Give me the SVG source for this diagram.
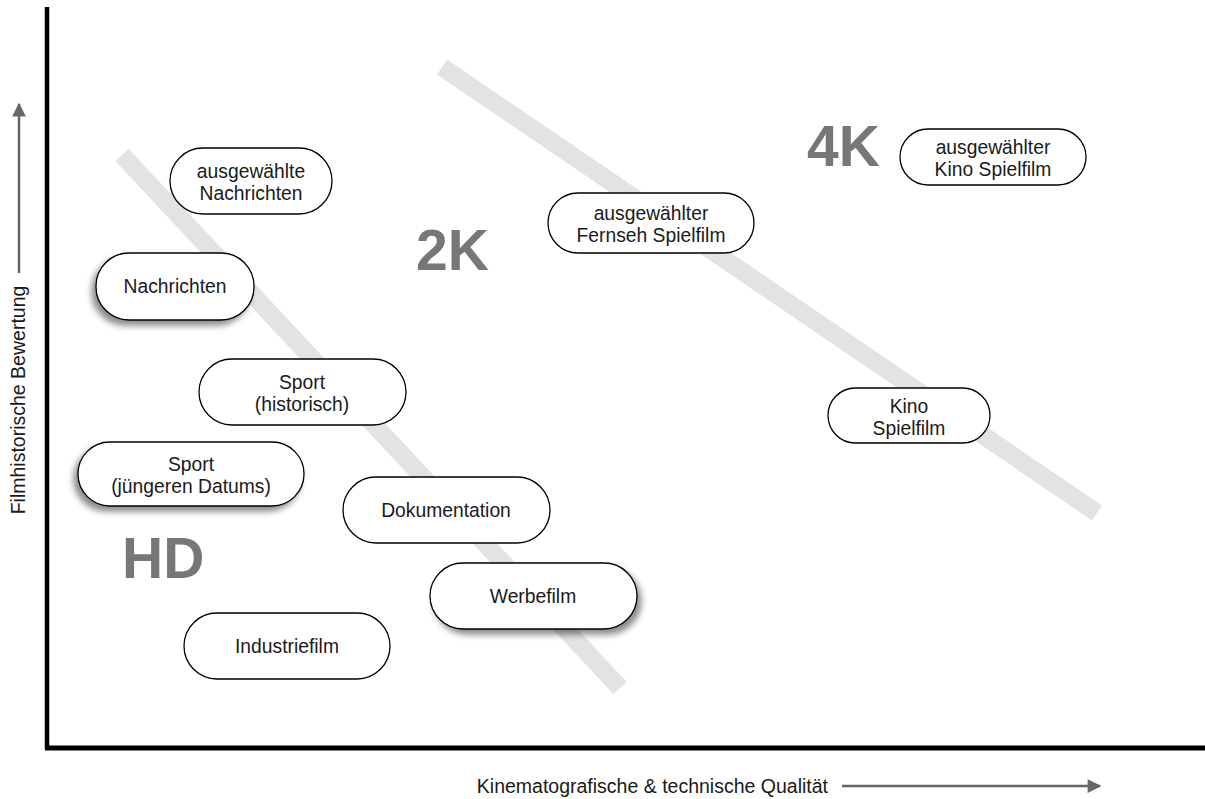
<svg xmlns="http://www.w3.org/2000/svg" width="1205" height="799" viewBox="0 0 1205 799">
<style>
.node rect{fill:#fff;stroke:#000;stroke-width:1.3}
.t{font-family:"Liberation Sans",Arial,sans-serif;font-size:19.3px;fill:#1a1a1a;text-anchor:middle}
.big{font-family:"Liberation Sans",Arial,sans-serif;font-size:57px;font-weight:bold;fill:#777}
.band{stroke:#e3e3e3;stroke-width:18;fill:none}
.ax{font-family:"Liberation Sans",Arial,sans-serif;font-size:19.5px;fill:#1a1a1a}
</style>
<defs>
<filter id="shL" x="-20%" y="-20%" width="140%" height="160%"><feDropShadow dx="-4" dy="5" stdDeviation="3" flood-color="#000" flood-opacity="0.45"/></filter>
<filter id="shR" x="-20%" y="-20%" width="140%" height="160%"><feDropShadow dx="4" dy="5" stdDeviation="3" flood-color="#000" flood-opacity="0.45"/></filter>
<marker id="ah" viewBox="0 0 10 10" refX="9" refY="5" markerWidth="6.5" markerHeight="5.5" orient="auto" markerUnits="strokeWidth"><path d="M0,0 L10,5 L0,10 z" fill="#666"/></marker>
</defs>
<g id="bands">
<line class="band" x1="122" y1="155" x2="620" y2="688"/>
<line class="band" x1="442" y1="67" x2="1097" y2="513"/>
</g>
<g id="axes">
<line x1="47" y1="7" x2="47" y2="749" stroke="#000" stroke-width="4.5"/>
<line x1="45" y1="748" x2="1205" y2="748" stroke="#000" stroke-width="5"/>
<line x1="19" y1="273" x2="19" y2="104" stroke="#666" stroke-width="2.5" marker-end="url(#ah)"/>
<line x1="842" y1="786" x2="1100" y2="786" stroke="#666" stroke-width="2.5" marker-end="url(#ah)"/>
<text class="ax" transform="translate(25,400) rotate(-90)" text-anchor="middle">Filmhistorische Bewertung</text>
<text class="ax" x="828" y="793" text-anchor="end">Kinematografische &amp; technische Qualität</text>
</g>
<g id="labels">
<text class="big" x="807" y="166">4K</text>
<text class="big" x="416" y="270">2K</text>
<text class="big" x="122" y="578">HD</text>
</g>
<g id="connectors"></g>
<g id="n1" class="node"><rect x="170" y="148" width="162" height="66" rx="33"/><text class="t" x="251" y="178">ausgewählte</text><text class="t" x="251" y="200">Nachrichten</text></g>
<g id="n2" class="node"><rect x="96" y="253" width="158" height="67" rx="33" filter="url(#shL)"/><text class="t" x="175" y="293">Nachrichten</text></g>
<g id="n3" class="node"><rect x="199" y="359" width="207" height="66" rx="33"/><text class="t" x="302" y="389">Sport</text><text class="t" x="302" y="411">(historisch)</text></g>
<g id="n4" class="node"><rect x="78" y="442" width="226" height="64" rx="32" filter="url(#shL)"/><text class="t" x="191" y="471">Sport</text><text class="t" x="191" y="493">(jüngeren Datums)</text></g>
<g id="n5" class="node"><rect x="343" y="477" width="207" height="66" rx="33"/><text class="t" x="446" y="517">Dokumentation</text></g>
<g id="n6" class="node"><rect x="430" y="563" width="207" height="66" rx="33" filter="url(#shR)"/><text class="t" x="533" y="603">Werbefilm</text></g>
<g id="n7" class="node"><rect x="184" y="613" width="206" height="66" rx="33"/><text class="t" x="287" y="653">Industriefilm</text></g>
<g id="n8" class="node"><rect x="548" y="193" width="206" height="60" rx="30"/><text class="t" x="651" y="220">ausgewählter</text><text class="t" x="651" y="242">Fernseh Spielfilm</text></g>
<g id="n9" class="node"><rect x="828" y="388" width="162" height="55" rx="27.5"/><text class="t" x="909" y="413">Kino</text><text class="t" x="909" y="435">Spielfilm</text></g>
<g id="n10" class="node"><rect x="900" y="129" width="186" height="56" rx="28"/><text class="t" x="993" y="154">ausgewählter</text><text class="t" x="993" y="176">Kino Spielfilm</text></g>
</svg>
